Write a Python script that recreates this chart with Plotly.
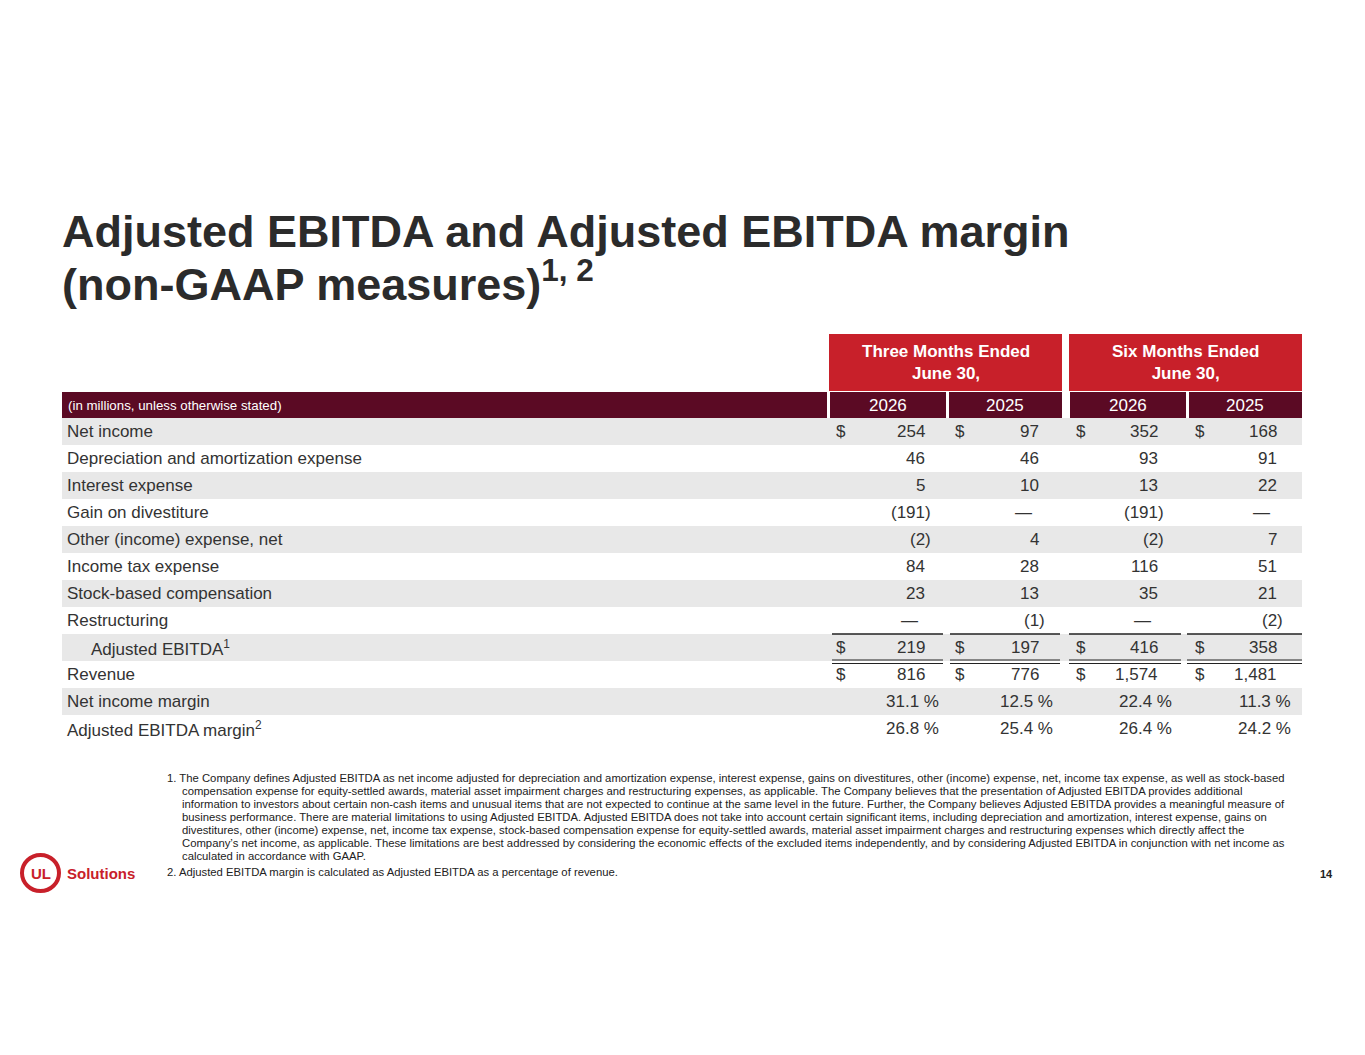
import plotly.graph_objects as go

W, H = 1365, 1055
RED = "#c8202a"
DARK = "#5b0a24"
GRAY = "#e8e8e8"
TXT = "#333333"

row_labels = ["Net income", "Depreciation and amortization expense", "Interest expense",
              "Gain on divestiture", "Other (income) expense, net", "Income tax expense",
              "Stock-based compensation", "Restructuring", "Adjusted EBITDA<sup>1</sup>",
              "Revenue", "Net income margin", "Adjusted EBITDA margin<sup>2</sup>"]
q3_2026 = ["254", "46", "5", "(191)", "(2)", "84", "23", "—", "219", "816", "31.1 %", "26.8 %"]
q3_2025 = ["97", "46", "10", "—", "4", "28", "13", "(1)", "197", "776", "12.5 %", "25.4 %"]
h1_2026 = ["352", "93", "13", "(191)", "(2)", "116", "35", "—", "416", "1,574", "22.4 %", "26.4 %"]
h1_2025 = ["168", "91", "22", "—", "7", "51", "21", "(2)", "358", "1,481", "11.3 %", "24.2 %"]
dollar_rows = [0, 8, 9]
years = ["2026", "2025", "2026", "2025"]
groups = ["Three Months Ended<br>June 30,", "Six Months Ended<br>June 30,"]

footnotes = [
    "1. The Company defines Adjusted EBITDA as net income adjusted for depreciation and amortization expense, interest expense, gains on divestitures, other (income) expense, net, income tax expense, as well as stock-based",
    "    compensation expense for equity-settled awards, material asset impairment charges and restructuring expenses, as applicable. The Company believes that the presentation of Adjusted EBITDA provides additional",
    "    information to investors about certain non-cash items and unusual items that are not expected to continue at the same level in the future. Further, the Company believes Adjusted EBITDA provides a meaningful measure of",
    "    business performance. There are material limitations to using Adjusted EBITDA. Adjusted EBITDA does not take into account certain significant items, including depreciation and amortization, interest expense, gains on",
    "    divestitures, other (income) expense, net, income tax expense, stock-based compensation expense for equity-settled awards, material asset impairment charges and restructuring expenses which directly affect the",
    "    Company’s net income, as applicable. These limitations are best addressed by considering the economic effects of the excluded items independently, and by considering Adjusted EBITDA in conjunction with net income as",
    "    calculated in accordance with GAAP.",
    "2. Adjusted EBITDA margin is calculated as Adjusted EBITDA as a percentage of revenue.",
]

cols = [q3_2026, q3_2025, h1_2026, h1_2025]
col_l = [829, 948, 1069, 1188]
col_r = [947, 1062, 1187, 1302]
num_r = [927, 1041, 1160, 1279]

fig = go.Figure()
shapes, ann = [], []

def rect(x0, y0, x1, y1, c):
    shapes.append(dict(type="rect", x0=x0, y0=y0, x1=x1, y1=y1, fillcolor=c, line_width=0, layer="below"))

def line(x0, y, x1, w=1):
    shapes.append(dict(type="line", x0=x0, y0=y, x1=x1, y1=y, line=dict(color="#222", width=w)))

def text(x, y, s, size=17, color=TXT, xa="left", bold=False, ya="middle"):
    ann.append(dict(x=x, y=y, text=f"<b>{s}</b>" if bold else s, showarrow=False, xanchor=xa, yanchor=ya,
                    font=dict(size=size, color=color, family="Liberation Sans, Arial")))

# title
text(60, 231, "Adjusted EBITDA and Adjusted EBITDA margin", 45, "#2b2b2b", bold=True)
text(60, 281, "(non-GAAP measures)<sup>1, 2</sup>", 45, "#2b2b2b", bold=True)

# group headers
for i, g in enumerate(groups):
    x0, x1 = col_l[2 * i], col_r[2 * i + 1]
    rect(x0, 334, x1, 391, RED)
    text((x0 + x1) / 2, 362, g, 17, "white", "center", bold=True)

# year bar
rect(62, 392, 827, 418, DARK)
text(66, 405, "(in millions, unless otherwise stated)", 13.3, "white")
for j, yv in enumerate(years):
    rect(col_l[j] + 1, 392, col_r[j] - 1 if j % 2 == 0 else col_r[j], 418, DARK)
    text((col_l[j] + col_r[j]) / 2, 405, yv, 17, "white", "center")

# body rows
y0, rh = 418, 27
for i, lab in enumerate(row_labels):
    yc = y0 + rh * i + rh / 2
    if i % 2 == 0:
        rect(62, y0 + rh * i, 1302, y0 + rh * (i + 1), GRAY)
    text(89 if i == 8 else 65, yc, lab)
    for j, c in enumerate(cols):
        v = c[i]
        if i in dollar_rows:
            text(col_l[j] + 5, yc, "$")
        if "%" in v:
            text(num_r[j] + 14, yc, v, xa="right")
        elif v.startswith("("):
            text(num_r[j] + 6, yc, v, xa="right")
        elif v == "—":
            text(num_r[j] - 7, yc, v, xa="right")
        else:
            text(num_r[j], yc, v, xa="right")

# totals rules
seg = [(832, 943), (950, 1060), (1069, 1181), (1187, 1302)]
for a, b in seg:
    line(a, 634, b, 1.5)
    line(a, 660, b, 1.2)
    line(a, 663.5, b, 1.2)

# footnotes
for k, f in enumerate(footnotes):
    yy = 778 + 13 * k + (3 if k == 7 else 0)
    ind = 180 if f.startswith("    ") else 165
    text(ind, yy, f.strip(), 11.3, "#222")

# logo and page number
shapes.append(dict(type="circle", x0=22, y0=855, x1=59, y1=891, line=dict(color=RED, width=4)))
text(40.5, 873, "UL", 15, RED, "center", bold=True)
text(65, 873, "Solutions", 15, RED, bold=True)
text(1335, 874, "14", 11, "#222", "right", bold=True)

# page body has an 8px margin; shift ranges to compensate
fig.update_layout(width=W, height=H, margin=dict(l=0, r=0, t=0, b=0), plot_bgcolor="white",
                  paper_bgcolor="white", shapes=shapes, annotations=ann, showlegend=False,
                  xaxis=dict(range=[8, W + 8], visible=False, fixedrange=True),
                  yaxis=dict(range=[H + 8, 8], visible=False, fixedrange=True))
fig.write_html("out.html")
